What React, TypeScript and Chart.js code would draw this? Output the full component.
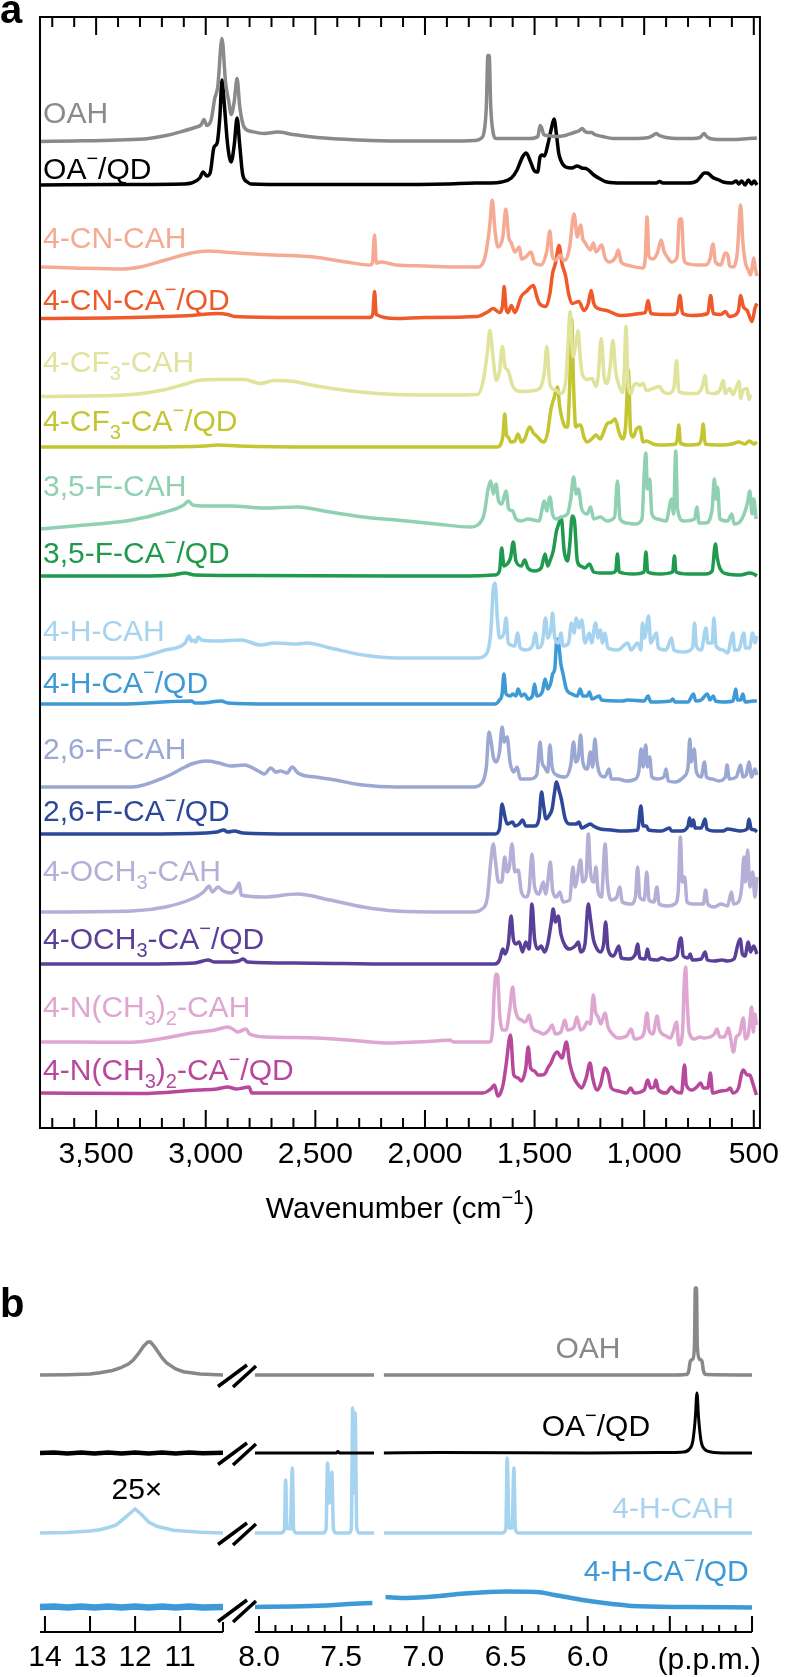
import React, { useEffect, useRef } from 'react';
import { Chart, registerables } from 'chart.js';
Chart.register(...registerables);

type Pt = [number, number | null];
const FONT = '"Liberation Sans", Arial, Helvetica, sans-serif';

// ---------------- Panel a: IR spectra (wavenumber, height above baseline) ----------------
const irOAH: Pt[] = [[3756,0],[3600,0.5],[3400,1.5],[3260,3],[3180,6],[3110,10],[3050,14],[3020,17],[3008,22],[2995,16],[2975,22],[2959,43],[2945,55],[2926,103],[2910,60],[2895,40],[2884,27],[2870,40],[2857,63],[2845,35],[2824,14],[2790,10],[2733,8],[2673,9.5],[2600,7],[2493,4],[2300,1.5],[2132,0.5],[1900,0.5],[1771,1],[1745,3],[1730,10],[1720,35],[1713,86],[1707,86],[1700,35],[1690,10],[1675,3],[1600,3],[1520,3],[1485,5],[1475,16],[1468,14],[1458,7],[1440,6],[1400,5],[1360,6],[1320,9],[1295,11],[1283,13],[1270,10],[1255,9],[1240,9],[1225,7],[1190,5],[1140,3],[1050,3],[980,4],[960,6],[946,8],[930,6],[900,4],[850,3],[780,3],[745,4],[727,8],[715,5],[700,3],[650,2],[600,2],[550,2.5],[486,3.5]];
const irOA: Pt[] = [[3756,0],[3400,0.5],[3100,1],[3065,2],[3027,7],[3012,13],[2995,9],[2980,12],[2962,38],[2948,42],[2935,70],[2926,105],[2915,80],[2900,40],[2884,23],[2870,40],[2857,67],[2845,40],[2831,10],[2810,3],[2795,1],[2600,0.5],[2200,0.5],[1900,1],[1771,2],[1700,2],[1651,3],[1606,7],[1580,15],[1555,28],[1538,32],[1520,24],[1500,14],[1486,13],[1475,28],[1465,30],[1455,29],[1440,40],[1425,55],[1411,66],[1400,50],[1390,32],[1381,25],[1358,18],[1330,17],[1306,19],[1285,17],[1261,16],[1230,10],[1200,6],[1170,3],[1100,2],[1020,2],[945,2],[930,3.5],[915,2],[800,2],[760,4],[740,9],[727,12],[715,12],[704,11],[690,8],[659,5],[640,3],[600,2],[580,4],[569,1],[555,4],[540,0],[525,5],[510,1],[498,4],[486,0]];
const irCNH: Pt[] = [[3756,0],[3600,-1],[3381,-2],[3300,0],[3184,7],[3065,14],[2989,16],[2920,15],[2854,14],[2780,13],[2689,12],[2508,10],[2358,5],[2252,2],[2240,4],[2230,32],[2222,4],[2200,5],[2132,2],[2000,1],[1850,0],[1757,0],[1726,10],[1705,40],[1693,67],[1680,35],[1666,20],[1645,30],[1631,58],[1618,30],[1606,24],[1590,15],[1569,20],[1560,8],[1540,10],[1516,15],[1500,4],[1471,2],[1445,15],[1430,36],[1420,12],[1405,7],[1381,12],[1370,7],[1358,7],[1340,20],[1320,53],[1305,30],[1290,42],[1280,28],[1272,25],[1258,20],[1245,17],[1232,24],[1220,15],[1193,22],[1180,10],[1160,5],[1130,10],[1118,17],[1105,5],[1080,2],[1005,-1],[995,10],[987,50],[978,10],[960,8],[940,14],[922,27],[910,16],[895,10],[875,5],[850,10],[839,48],[830,48],[820,10],[810,4],[750,2],[720,2],[700,8],[686,23],[675,5],[650,2],[638,10],[630,14],[619,12],[610,1],[595,0],[575,15],[560,62],[550,25],[538,4],[525,-3],[515,-8],[505,3],[500,9],[493,-2],[486,-9]];
const irCNQ: Pt[] = [[3756,0],[3336,1],[3065,3],[2944,5],[2900,4],[2869,2],[2580,1],[2252,1],[2238,4],[2230,27],[2222,4],[2132,0],[2000,1],[1760,2],[1711,7],[1689,10],[1660,6],[1645,15],[1639,32],[1630,10],[1621,6],[1606,13],[1590,6],[1561,22],[1538,27],[1505,33],[1490,22],[1478,15],[1448,12],[1430,25],[1418,45],[1405,55],[1388,73],[1375,55],[1358,42],[1345,25],[1328,15],[1298,17],[1275,8],[1255,15],[1242,28],[1230,15],[1210,10],[1170,8],[1110,3],[1050,4],[1020,5],[995,6],[982,18],[970,5],[900,4],[870,4],[850,6],[837,23],[825,5],[780,3],[710,5],[697,23],[685,5],[650,4],[630,7],[612,2],[590,3],[570,8],[560,23],[548,12],[530,8],[508,-3],[495,10],[486,15]];
const irCF3H: Pt[] = [[3756,0],[3336,2],[3184,7],[3100,12],[3034,16],[2944,17],[2824,17],[2749,13],[2689,16],[2599,15],[2508,11],[2358,6],[2132,2],[1900,1.5],[1760,2],[1734,16],[1715,45],[1704,66],[1690,40],[1674,16],[1660,25],[1647,50],[1635,30],[1621,26],[1599,10],[1560,5],[1500,6],[1471,10],[1455,25],[1444,50],[1432,15],[1420,8],[1400,6],[1381,3],[1358,15],[1348,50],[1338,85],[1325,40],[1310,55],[1302,66],[1292,40],[1283,23],[1261,17],[1238,18],[1220,10],[1210,20],[1196,58],[1183,20],[1170,13],[1155,30],[1143,56],[1130,25],[1110,8],[1098,4],[1090,30],[1083,70],[1074,15],[1060,3],[1050,10],[1035,13],[1020,11],[1005,13],[990,6],[960,8],[930,10],[915,5],[890,3],[865,8],[852,36],[842,5],[800,3],[760,3],[735,10],[722,21],[712,4],[680,3],[655,6],[640,16],[630,3],[610,8],[595,2],[580,9],[567,15],[560,-2],[550,6],[530,8],[522,-3],[515,2]];
const irCF3Q: Pt[] = [[3756,0],[3300,0],[3000,1],[2944,2],[2850,1],[2500,0],[2132,0],[1800,0],[1670,0],[1654,3],[1644,12],[1636,33],[1628,12],[1621,10],[1608,5],[1590,6],[1576,13],[1560,5],[1545,8],[1523,20],[1505,14],[1486,10],[1470,6],[1456,5],[1440,15],[1426,37],[1410,50],[1396,60],[1385,40],[1373,27],[1360,20],[1350,20],[1340,60],[1331,128],[1322,60],[1312,20],[1300,22],[1290,22],[1275,10],[1260,5],[1235,9],[1220,12],[1201,8],[1185,15],[1170,23],[1150,25],[1133,28],[1115,15],[1100,8],[1085,20],[1072,77],[1062,15],[1050,10],[1035,18],[1020,20],[1005,5],[990,6],[960,3],[930,2],[855,3],[848,10],[842,22],[835,4],[800,2],[750,3],[738,10],[731,23],[722,3],[650,2],[600,3],[569,5],[540,3],[520,6],[500,3],[486,5]];
const ir35FH: Pt[] = [[3756,0],[3600,3],[3336,9],[3184,17],[3100,24],[3079,28],[3060,24],[3000,23],[2884,23],[2733,21],[2583,22],[2433,17],[2282,12],[2132,9],[1950,5],[1790,2],[1760,4],[1730,15],[1712,40],[1700,48],[1688,35],[1676,45],[1664,28],[1650,25],[1630,38],[1618,20],[1600,18],[1585,10],[1560,8],[1530,10],[1480,8],[1455,28],[1445,18],[1430,32],[1418,15],[1400,10],[1380,12],[1350,15],[1335,30],[1322,52],[1310,35],[1300,40],[1285,20],[1260,15],[1245,22],[1230,10],[1200,12],[1170,8],[1135,12],[1122,48],[1110,10],[1080,6],[1040,5],[1010,10],[1000,55],[993,76],[985,40],[975,50],[965,15],[940,10],[900,8],[875,30],[866,15],[856,78],[848,20],[820,8],[770,10],[760,22],[750,6],[720,6],[690,20],[680,50],[672,30],[665,42],[655,10],[620,8],[600,15],[590,5],[560,8],[530,25],[518,38],[508,15],[500,30],[490,10]];
const ir35FQ: Pt[] = [[3756,0],[3300,0],[3150,1],[3094,3],[3050,1],[2800,0.5],[2132,0],[1800,0],[1680,1],[1660,5],[1650,28],[1640,10],[1625,12],[1610,18],[1597,34],[1585,15],[1560,10],[1545,16],[1530,8],[1500,5],[1470,8],[1452,22],[1440,10],[1430,15],[1415,25],[1400,45],[1390,52],[1378,58],[1365,25],[1350,15],[1340,30],[1328,60],[1318,55],[1305,15],[1290,10],[1270,8],[1250,12],[1230,4],[1200,3],[1150,3],[1130,5],[1122,22],[1114,4],[1050,2],[1000,4],[992,24],[984,4],[930,2],[870,4],[862,20],[855,4],[800,2],[720,2],[690,5],[675,32],[668,20],[655,8],[620,2],[560,1],[520,3],[500,2],[486,0]];
const ir4HH: Pt[] = [[3756,0],[3336,0],[3184,8],[3094,15],[3076,22],[3066,17],[3057,18],[3045,16],[3034,21],[3020,18],[2950,17],[2839,18],[2749,13],[2689,15],[2583,14],[2538,15],[2433,10],[2282,3],[2132,0],[1900,0],[1760,0],[1720,4],[1700,25],[1688,70],[1680,75],[1670,40],[1660,20],[1640,25],[1630,40],[1620,15],[1590,12],[1578,25],[1565,10],[1540,8],[1510,12],[1496,25],[1485,10],[1465,15],[1450,40],[1440,20],[1425,30],[1418,45],[1408,20],[1390,15],[1380,25],[1370,12],[1345,15],[1332,35],[1320,25],[1310,40],[1298,30],[1285,38],[1270,15],[1250,25],[1240,15],[1222,35],[1210,20],[1200,28],[1190,15],[1180,25],[1165,10],[1120,8],[1075,15],[1060,8],[1030,15],[1015,8],[1008,35],[998,20],[980,42],[970,15],[945,25],[935,10],[900,8],[875,20],[865,8],[820,6],[780,10],[770,35],[762,12],[740,8],[718,30],[710,15],[690,15],[682,40],[672,12],[640,8],[620,5],[595,25],[588,8],[570,8],[545,25],[538,10],[520,10],[505,25],[495,15],[486,22]];
const ir4HQ: Pt[] = [[3756,0],[3400,0],[3065,3],[3050,1],[3020,1],[2929,3],[2900,1],[2700,0],[2132,0],[1800,0],[1680,0],[1660,4],[1648,10],[1640,30],[1630,10],[1610,8],[1600,10],[1585,8],[1575,15],[1560,8],[1545,10],[1530,5],[1510,8],[1500,20],[1490,8],[1465,12],[1452,25],[1440,15],[1425,22],[1418,30],[1408,35],[1398,65],[1390,60],[1380,40],[1370,30],[1355,15],[1330,10],[1305,8],[1292,15],[1280,8],[1260,8],[1250,12],[1238,5],[1205,8],[1195,4],[1100,3],[1075,4],[1000,3],[982,8],[970,2],[880,3],[870,5],[860,2],[800,2],[775,10],[765,3],[740,4],[712,10],[700,4],[685,8],[675,3],[640,2],[595,3],[582,15],[575,4],[560,4],[550,10],[540,2],[500,3],[486,3]];
const ir26FH: Pt[] = [[3756,0],[3336,0],[3184,10],[3094,20],[3065,23],[2997,26],[2940,24],[2884,21],[2824,22],[2760,16],[2733,13],[2703,19],[2680,15],[2658,16],[2630,14],[2605,20],[2580,14],[2500,10],[2435,8],[2284,2],[2132,0],[1900,0],[1780,0],[1740,4],[1720,20],[1708,55],[1698,45],[1688,30],[1675,25],[1660,35],[1648,60],[1638,45],[1625,50],[1612,25],[1595,15],[1580,20],[1565,8],[1520,8],[1490,12],[1475,45],[1466,25],[1455,20],[1440,15],[1430,42],[1420,20],[1400,12],[1360,10],[1335,22],[1322,45],[1312,25],[1300,30],[1290,52],[1280,25],[1260,18],[1245,35],[1235,20],[1225,48],[1215,25],[1200,12],[1180,10],[1160,18],[1150,8],[1120,8],[1080,6],[1040,8],[1025,15],[1014,38],[1005,20],[993,42],[985,20],[975,30],[965,10],[940,8],[910,10],[900,18],[890,6],[860,5],[820,10],[800,20],[792,48],[785,25],[772,38],[762,15],[740,10],[725,25],[716,10],[690,8],[660,6],[630,10],[622,22],[612,8],[580,10],[560,22],[550,10],[535,12],[522,25],[510,10],[495,18],[486,12]];
const ir26FQ: Pt[] = [[3756,0],[3300,0],[3000,1],[2950,2],[2918,4],[2900,2],[2870,3],[2830,1],[2600,0],[2132,0],[1800,0],[1680,0],[1660,5],[1648,30],[1638,20],[1625,10],[1600,12],[1590,8],[1570,10],[1555,14],[1540,8],[1500,8],[1480,15],[1468,42],[1460,30],[1448,15],[1435,18],[1420,25],[1410,40],[1400,52],[1390,45],[1378,35],[1360,15],[1340,10],[1310,10],[1298,12],[1285,6],[1245,10],[1232,8],[1200,5],[1150,4],[1100,3],[1030,4],[1015,28],[1005,8],[990,8],[980,4],[920,3],[885,6],[875,3],[830,3],[800,8],[793,16],[785,8],[775,14],[768,6],[740,6],[722,15],[714,5],[680,3],[640,3],[620,5],[560,3],[530,5],[522,15],[512,5],[495,4],[486,2]];
const irOMeH: Pt[] = [[3756,0],[3336,1],[3184,5],[3065,13],[3010,20],[2995,24],[2985,26],[2970,20],[2944,25],[2920,21],[2884,19],[2860,24],[2847,29],[2838,17],[2733,15],[2583,18],[2433,12],[2282,5],[2132,1],[1900,0],[1780,0],[1740,3],[1715,15],[1700,50],[1688,68],[1678,50],[1665,30],[1650,30],[1636,55],[1625,40],[1615,45],[1603,68],[1590,40],[1575,42],[1560,20],[1540,15],[1525,22],[1512,58],[1500,25],[1480,18],[1460,30],[1450,18],[1440,30],[1428,50],[1418,22],[1400,15],[1385,20],[1370,10],[1340,12],[1325,45],[1315,25],[1305,35],[1290,52],[1280,30],[1265,35],[1255,78],[1245,40],[1230,30],[1220,45],[1210,20],[1195,15],[1178,68],[1168,30],[1150,12],[1125,15],[1112,25],[1100,10],[1060,8],[1040,15],[1030,45],[1020,15],[1000,12],[988,40],[978,12],[955,10],[942,25],[932,8],[890,6],[860,8],[845,20],[835,75],[826,30],[815,35],[805,10],[780,8],[730,8],[720,22],[710,8],[680,5],[650,8],[620,6],[602,20],[592,8],[570,10],[555,25],[545,55],[538,30],[528,62],[518,25],[505,40],[495,15],[486,35]];
const irOMeQ: Pt[] = [[3756,0],[3300,0],[3050,1],[2989,4],[2960,2],[2900,2],[2850,3],[2829,5],[2810,2],[2600,1],[2132,0],[1800,0],[1680,0],[1660,4],[1645,15],[1635,10],[1620,20],[1607,48],[1597,25],[1585,20],[1570,22],[1555,12],[1540,22],[1525,15],[1512,60],[1500,25],[1485,15],[1470,18],[1455,12],[1440,20],[1425,40],[1415,55],[1405,42],[1392,48],[1380,30],[1360,18],[1340,15],[1315,18],[1300,22],[1290,12],[1270,20],[1255,60],[1245,45],[1232,25],[1222,18],[1200,12],[1185,20],[1176,42],[1165,15],[1140,8],[1115,18],[1105,6],[1070,5],[1040,10],[1030,20],[1020,6],[995,5],[985,15],[975,5],[940,4],[920,6],[890,4],[850,8],[840,22],[832,26],[822,8],[800,6],[790,10],[780,4],[740,5],[722,12],[712,4],[680,3],[645,4],[620,3],[590,5],[572,20],[562,25],[552,10],[540,8],[525,22],[515,12],[500,18],[486,10]];
const irNMe2H: Pt[] = [[3756,0],[3600,0],[3336,-0.3],[3184,4],[3065,9],[2959,12],[2899,15],[2870,12],[2854,10],[2830,12],[2816,13],[2800,8],[2718,5],[2493,4],[2300,1],[2186,-1],[1950,1],[1886,2],[1870,0],[1760,0],[1705,0],[1692,12],[1684,50],[1676,68],[1668,66],[1660,30],[1645,12],[1630,12],[1615,30],[1600,55],[1590,35],[1578,25],[1560,22],[1547,20],[1535,22],[1525,27],[1512,15],[1480,10],[1460,8],[1435,12],[1420,17],[1405,8],[1380,10],[1362,22],[1350,12],[1320,15],[1307,25],[1290,12],[1275,14],[1260,20],[1245,18],[1232,47],[1222,30],[1210,25],[1198,18],[1179,29],[1165,15],[1145,8],[1120,4],[1080,6],[1059,13],[1045,3],[1020,4],[1000,10],[987,29],[978,12],[960,8],[941,26],[930,12],[900,6],[880,4],[868,10],[852,20],[842,-3],[825,10],[818,55],[811,75],[804,40],[795,10],[770,3],[745,5],[729,4],[700,5],[680,8],[668,13],[655,5],[635,5],[625,9],[616,14],[605,3],[593,-10],[580,5],[565,8],[548,24],[538,3],[525,8],[518,20],[510,35],[502,10],[495,28],[488,17]];
const irNMe2Q: Pt[] = [[3756,0],[3300,-0.5],[3034,3],[2950,4],[2899,6],[2860,4],[2830,5],[2802,6],[2790,0],[2700,0],[2300,0],[2186,0],[1900,0],[1735,0],[1700,4],[1683,8],[1668,-3],[1655,0],[1642,10],[1630,28],[1610,58],[1595,18],[1575,15],[1560,12],[1540,25],[1529,46],[1518,25],[1500,22],[1485,18],[1465,18],[1450,20],[1440,25],[1425,30],[1410,38],[1397,41],[1375,35],[1355,51],[1340,30],[1320,15],[1300,8],[1285,5],[1265,15],[1247,30],[1235,15],[1215,3],[1200,8],[1179,25],[1165,20],[1150,5],[1120,2],[1080,0],[1062,5],[1045,0],[1000,3],[984,13],[970,5],[955,6],[947,13],[935,3],[900,0],[875,6],[860,2],[830,0],[816,28],[808,8],[780,3],[760,6],[743,10],[730,5],[710,5],[698,20],[688,0],[650,2],[620,3],[608,5],[595,0],[570,5],[555,20],[548,23],[530,18],[518,18],[505,10],[488,-2]];

const irSeries = [irOAH, irOA, irCNH, irCNQ, irCF3H, irCF3Q, ir35FH, ir35FQ, ir4HH, ir4HQ, ir26FH, ir26FQ, irOMeH, irOMeQ, irNMe2H, irNMe2Q];
const irLabels = ['OAH', 'OA^−/QD', '4-CN-CAH', '4-CN-CA^−/QD', '4-CF_3-CAH', '4-CF_3-CA^−/QD', '3,5-F-CAH', '3,5-F-CA^−/QD', '4-H-CAH', '4-H-CA^−/QD', '2,6-F-CAH', '2,6-F-CA^−/QD', '4-OCH_3-CAH', '4-OCH_3-CA^−/QD', '4-N(CH_3)_2-CAH', '4-N(CH_3)_2-CA^−/QD'];
const irColors = ['#8a8a8a', '#000000', '#f5ab93', '#ef5a2b', '#dfe39b', '#c3c531', '#8fd1b2', '#1f9a4e', '#a6d3ef', '#3d9ad7', '#9ba8d3', '#2e4899', '#b5aed6', '#5a3f98', '#dea6d0', '#b7489c'];
// vertical stacking offset of each spectrum (axis units)
const irOffsets = [986.5, 943, 861, 809.5, 731.5, 681, 599, 552, 470, 424, 341, 294, 216, 164, 86, 35];
const irLabelLift = [29.5, 17, 30, 19.5, 35.5, 27, 44, 24, 28, 22, 39, 24, 42, 26, 36, 24];
const irLabelX = 3742;
const irAxisTitle = 'Wavenumber (cm^{−1})';
const irRange = { min: 472, max: 3756 };

// ---------------- Panel b: 1H NMR (ppm, height above baseline) ----------------
const nmrOAHLeft: Pt[] = [[14.11,0],[13.5,0.3],[13,1],[12.78,2.3],[12.5,4.5],[12.33,7],[12.15,11],[12.04,15],[11.9,23],[11.81,29],[11.72,33],[11.66,33],[11.58,29],[11.52,25],[11.4,17],[11.3,12],[11.1,6],[10.93,3.3],[10.56,1],[10.05,0]];
const nmrOAHRight: Pt[] = [[8.025,0],[7.6,0],[7.30,0],[7.27,null],[7.24,0],[6.0,0],[5.5,0],[5.40,0.5],[5.385,4],[5.375,14],[5.36,16],[5.35,30],[5.345,87],[5.338,87],[5.333,30],[5.32,16],[5.305,14],[5.295,4],[5.28,0.5],[5.0,0]];
const nmrOALeft: Pt[] = [[14.11,0],[13.8,0.6],[13.5,-0.4],[13.2,0.5],[12.9,-0.5],[12.6,0.6],[12.3,-0.4],[12,0.5],[11.7,-0.5],[11.4,0.4],[11.1,-0.5],[10.8,0.6],[10.5,-0.3],[10.05,0.2]];
const nmrOARight: Pt[] = [[8.025,0],[7.53,0],[7.52,1.5],[7.51,0],[7.30,0],[7.27,null],[7.24,0],[6.9,0.5],[6.0,0],[5.5,0.5],[5.42,1],[5.38,4],[5.36,12],[5.345,35],[5.335,60],[5.325,35],[5.31,12],[5.29,4],[5.25,1],[5.15,0],[5.0,0]];
const nmrCAHLeft: Pt[] = [[14.11,0],[13.5,0.5],[13,2],[12.78,3.3],[12.55,6],[12.41,8.3],[12.19,16.7],[12.08,21],[12.0,24],[11.92,21],[11.82,16.7],[11.7,11],[11.52,6.7],[11.15,2.7],[10.56,0.7],[10.05,0]];
const nmrCAHRight: Pt[] = [[8.025,0],[7.87,0],[7.845,3],[7.838,53],[7.83,5],[7.81,4],[7.797,65],[7.789,3],[7.77,0],[7.61,0],[7.592,4],[7.583,70],[7.572,30],[7.557,61],[7.547,4],[7.53,0],[7.45,0],[7.438,5],[7.43,125],[7.422,40],[7.415,120],[7.405,5],[7.39,0],[7.30,0],[7.27,null],[7.24,0],[6.52,0],[6.498,4],[6.49,75],[6.478,5],[6.46,5],[6.449,65],[6.44,4],[6.42,0],[5.0,0]];
const nmrCAQDLeft: Pt[] = [[14.11,0],[13.8,0.5],[13.5,-0.5],[13.2,0.6],[12.9,-0.4],[12.6,0.5],[12.3,-0.5],[12,0.6],[11.7,-0.4],[11.4,0.5],[11.1,-0.5],[10.8,0.5],[10.5,-0.4],[10.05,0]];
const nmrCAQDRight: Pt[] = [[8.025,0],[7.8,0.5],[7.6,1.5],[7.45,3],[7.31,4],[7.27,null],[7.23,10],[7.1,9],[6.9,11],[6.79,13],[6.6,15],[6.49,15.5],[6.31,15],[6.2,12],[6.03,7],[5.85,3],[5.73,1],[5.4,0],[5.0,-0.5]];

const nmrLeftSeries = [nmrOAHLeft, nmrOALeft, nmrCAHLeft, nmrCAQDLeft];
const nmrRightSeries = [nmrOAHRight, nmrOARight, nmrCAHRight, nmrCAQDRight];
const nmrLabels = ['OAH', 'OA^−/QD', '4-H-CAH', '4-H-CA^−/QD'];
const nmrColors = ['#888888', '#000000', '#a6d3ef', '#3d9ad7'];
const nmrOffsets = [257, 179, 99, 25];
const nmrLeftWidths = [3.5, 4.5, 3.5, 6.5];
const nmrRightWidths = [3.5, 3, 3.5, 4.5];
const nmrLabelAnchor = [5.80, 5.62, 5.11, 5.02];
const nmrLabelLift = [28, 28, 26, 37];
const nmrScaleNote = { text: '25×', x: 11.96, series: 2, lift: 45 };
const nmrLeftRange = { min: 10.05, max: 14.11 };
const nmrRightRange = { min: 5.0, max: 8.025 };
const nmrUnitLabel = { text: '(p.p.m.)', x: 5.26 };

// ---------------- helpers ----------------
type Seg = { t: string; k: number };
function parseRich(s: string): Seg[] {
  const segs: Seg[] = [];
  let buf = '';
  for (let i = 0; i < s.length; i++) {
    const c = s[i];
    if ((c === '_' || c === '^') && i + 1 < s.length) {
      if (buf) { segs.push({ t: buf, k: 0 }); buf = ''; }
      let t = '';
      const j = i + 1;
      if (s[j] === '{') { const e = s.indexOf('}', j); t = s.slice(j + 1, e); i = e; }
      else { t = s[j]; i = j; }
      segs.push({ t, k: c === '_' ? -1 : 1 });
    } else buf += c;
  }
  if (buf) segs.push({ t: buf, k: 0 });
  return segs;
}

function drawRich(ctx: CanvasRenderingContext2D, s: string, x: number, capCenter: number, size: number, color: string, align: 'left' | 'right' | 'center') {
  const segs = parseRich(s);
  const small = Math.round(size * 0.68);
  const f = (sz: number) => `${sz}px ${FONT}`;
  let w = 0;
  const widths = segs.map((sg) => { ctx.font = f(sg.k ? small : size); const m = ctx.measureText(sg.t).width; w += m; return m; });
  let cx = align === 'left' ? x : align === 'right' ? x - w : x - w / 2;
  const base = capCenter + size * 0.358;
  ctx.save();
  ctx.textBaseline = 'alphabetic';
  ctx.textAlign = 'left';
  ctx.fillStyle = color;
  segs.forEach((sg, i) => {
    ctx.font = f(sg.k ? small : size);
    const dy = sg.k === -1 ? size * 0.27 : sg.k === 1 ? -size * 0.45 : 0;
    ctx.fillText(sg.t, cx, base + dy);
    cx += widths[i];
  });
  ctx.restore();
}

function toData(s: Pt[], off: number) {
  return s.map(([x, y]) => ({ x, y: y === null ? null : off + y }));
}

const tickFont = { family: FONT, size: 30 };

// ---------------- Panel a ----------------
function IRPanel() {
  const ref = useRef<HTMLCanvasElement | null>(null);
  useEffect(() => {
    if (!ref.current) return;
    const decor = {
      id: 'irDecor',
      afterDraw(chart: any) {
        const { ctx, chartArea: a, scales } = chart;
        const xs = scales.x, ys = scales.y;
        ctx.save();
        ctx.strokeStyle = '#000';
        ctx.lineWidth = 2;
        ctx.strokeRect(a.left, a.top, a.right - a.left, a.bottom - a.top);
        ctx.beginPath();
        xs.ticks.forEach((t: any) => {
          const px = xs.getPixelForValue(t.value);
          const len = Math.round(t.value) % 500 === 0 ? 18 : 10;
          ctx.moveTo(px, a.bottom); ctx.lineTo(px, a.bottom - len);
          ctx.moveTo(px, a.top); ctx.lineTo(px, a.top + len);
        });
        ctx.stroke();
        ctx.restore();
        irLabels.forEach((lab, i) => {
          drawRich(ctx, lab, xs.getPixelForValue(irLabelX), ys.getPixelForValue(irOffsets[i] + irLabelLift[i]), 30, irColors[i], 'left');
        });
        drawRich(ctx, irAxisTitle, (a.left + a.right) / 2, a.bottom + 79, 30, '#000', 'center');
      },
    };
    const chart = new Chart(ref.current, {
      type: 'line',
      data: {
        datasets: irSeries.map((s, i) => ({
          label: irLabels[i],
          data: toData(s, irOffsets[i]),
          borderColor: irColors[i],
          borderWidth: 3.5,
          pointRadius: 0,
          fill: false,
          borderJoinStyle: 'round',
          cubicInterpolationMode: 'monotone',
        })) as any,
      },
      options: {
        animation: false,
        responsive: false,
        maintainAspectRatio: false,
        events: [],
        layout: { padding: { left: 40, right: 20, top: 17, bottom: 0 } },
        plugins: { legend: { display: false }, tooltip: { enabled: false }, title: { display: false } },
        scales: {
          x: {
            type: 'linear', reverse: true, min: irRange.min, max: irRange.max, position: 'bottom',
            grid: { display: false, drawTicks: false }, border: { display: false },
            ticks: {
              stepSize: 100, autoSkip: false, maxRotation: 0, minRotation: 0, includeBounds: false, padding: 9,
              font: tickFont, color: '#000',
              callback: (v: any) => (Math.round(v) % 500 === 0 ? Number(v).toLocaleString('en-US') : ''),
            },
            afterFit: (s: any) => { s.height = 112; },
          },
          y: { type: 'linear', display: false, min: 0, max: 1111 },
        },
      } as any,
      plugins: [decor],
    });
    return () => chart.destroy();
  }, []);
  return <canvas ref={ref} width={788} height={1240} style={{ position: 'absolute', left: 0, top: 0, width: 788, height: 1240 }} />;
}

// ---------------- Panel b ----------------
function NMRPanel() {
  const leftRef = useRef<HTMLCanvasElement | null>(null);
  const rightRef = useRef<HTMLCanvasElement | null>(null);
  useEffect(() => {
    if (!leftRef.current || !rightRef.current) return;
    const common = (range: { min: number; max: number }, step: number, cb: (v: number) => string, pad: any) => ({
      animation: false,
      responsive: false,
      maintainAspectRatio: false,
      events: [],
      layout: { padding: pad },
      plugins: { legend: { display: false }, tooltip: { enabled: false } },
      scales: {
        x: {
          type: 'linear', reverse: true, min: range.min, max: range.max, position: 'bottom',
          grid: { display: false, drawTicks: false }, border: { display: false },
          ticks: { stepSize: step, autoSkip: false, maxRotation: 0, minRotation: 0, includeBounds: false, padding: 8, font: tickFont, color: '#000', callback: cb },
          afterFit: (s: any) => { s.height = 45; },
        },
        y: { type: 'linear', display: false, min: 0, max: 362 },
      },
    });
    const isHalf = (v: number) => Math.abs(v * 2 - Math.round(v * 2)) < 1e-6;

    const leftDecor = {
      id: 'nmrLeftDecor',
      afterDraw(chart: any) {
        const { ctx, chartArea: a, scales } = chart;
        const xs = scales.x, ys = scales.y;
        ctx.save();
        ctx.strokeStyle = '#000';
        ctx.lineWidth = 2;
        ctx.beginPath();
        ctx.moveTo(a.left, a.bottom); ctx.lineTo(a.right, a.bottom);
        xs.ticks.forEach((t: any) => { const px = xs.getPixelForValue(t.value); ctx.moveTo(px, a.bottom); ctx.lineTo(px, a.bottom - 16); });
        ctx.moveTo(a.right, a.bottom); ctx.lineTo(a.right, a.bottom - 10);
        ctx.stroke();
        // break marks
        ctx.lineWidth = 3.5;
        ctx.lineCap = 'butt';
        nmrOffsets.forEach((off, i) => {
          const cy = ys.getPixelForValue(off) + (i === 3 ? 3 : 0);
          const R = a.right;
          ctx.beginPath();
          ctx.moveTo(R - 5, cy + 11.5); ctx.lineTo(R + 24, cy - 10);
          ctx.moveTo(R + 10, cy + 12); ctx.lineTo(R + 33, cy - 9);
          ctx.stroke();
        });
        ctx.restore();
        const s = nmrScaleNote;
        drawRich(ctx, s.text, xs.getPixelForValue(s.x), ys.getPixelForValue(nmrOffsets[s.series] + s.lift), 30, '#000', 'center');
      },
    };
    const rightDecor = {
      id: 'nmrRightDecor',
      afterDraw(chart: any) {
        const { ctx, chartArea: a, scales } = chart;
        const xs = scales.x, ys = scales.y;
        ctx.save();
        ctx.strokeStyle = '#000';
        ctx.lineWidth = 2;
        ctx.beginPath();
        ctx.moveTo(a.left, a.bottom); ctx.lineTo(a.right, a.bottom);
        xs.ticks.forEach((t: any) => {
          const px = xs.getPixelForValue(t.value);
          const len = isHalf(t.value) ? 16 : 7;
          ctx.moveTo(px, a.bottom); ctx.lineTo(px, a.bottom - len);
        });
        ctx.stroke();
        ctx.restore();
        drawRich(ctx, nmrUnitLabel.text, xs.getPixelForValue(nmrUnitLabel.x), a.bottom + 26, 30, '#000', 'center');
        nmrLabels.forEach((lab, i) => {
          drawRich(ctx, lab, xs.getPixelForValue(nmrLabelAnchor[i]), ys.getPixelForValue(nmrOffsets[i] + nmrLabelLift[i]), 30, nmrColors[i], 'right');
        });
      },
    };

    const left = new Chart(leftRef.current, {
      type: 'line',
      data: {
        datasets: nmrLeftSeries.map((s, i) => ({
          data: toData(s, nmrOffsets[i]), borderColor: nmrColors[i], borderWidth: nmrLeftWidths[i],
          pointRadius: 0, fill: false, tension: 0, spanGaps: false,
        })) as any,
      },
      options: common(nmrLeftRange, 1, (v: number) => String(Math.round(v)), { left: 40, right: 39, top: 10, bottom: 0 }) as any,
      plugins: [leftDecor],
    });
    const right = new Chart(rightRef.current, {
      type: 'line',
      data: {
        datasets: nmrRightSeries.map((s, i) => ({
          data: toData(s, nmrOffsets[i]), borderColor: nmrColors[i], borderWidth: nmrRightWidths[i],
          pointRadius: 0, fill: false, cubicInterpolationMode: 'monotone', spanGaps: false,
        })) as any,
      },
      options: common(nmrRightRange, 0.1, (v: number) => (isHalf(v) && v > 5.75 ? Number(v).toFixed(1) : ''), { left: 18, right: 36, top: 10, bottom: 0 }) as any,
      plugins: [rightDecor],
    });
    return () => { left.destroy(); right.destroy(); };
  }, []);
  return (
    <>
      <canvas ref={leftRef} width={262} height={417} style={{ position: 'absolute', left: 0, top: 1260, width: 262, height: 417 }} />
      <canvas ref={rightRef} width={558} height={417} style={{ position: 'absolute', left: 230, top: 1260, width: 558, height: 417 }} />
    </>
  );
}

const panelLetter: React.CSSProperties = { position: 'absolute', left: 0, fontFamily: FONT, fontWeight: 700, fontSize: 40, lineHeight: '40px', color: '#000' };

export default function App() {
  return (
    <div style={{ position: 'absolute', left: 0, top: 0, width: 788, height: 1677, background: '#fff', overflow: 'hidden' }}>
      <IRPanel />
      <NMRPanel />
      <div style={{ ...panelLetter, top: -11 }}>a</div>
      <div style={{ ...panelLetter, top: 1283 }}>b</div>
    </div>
  );
}
